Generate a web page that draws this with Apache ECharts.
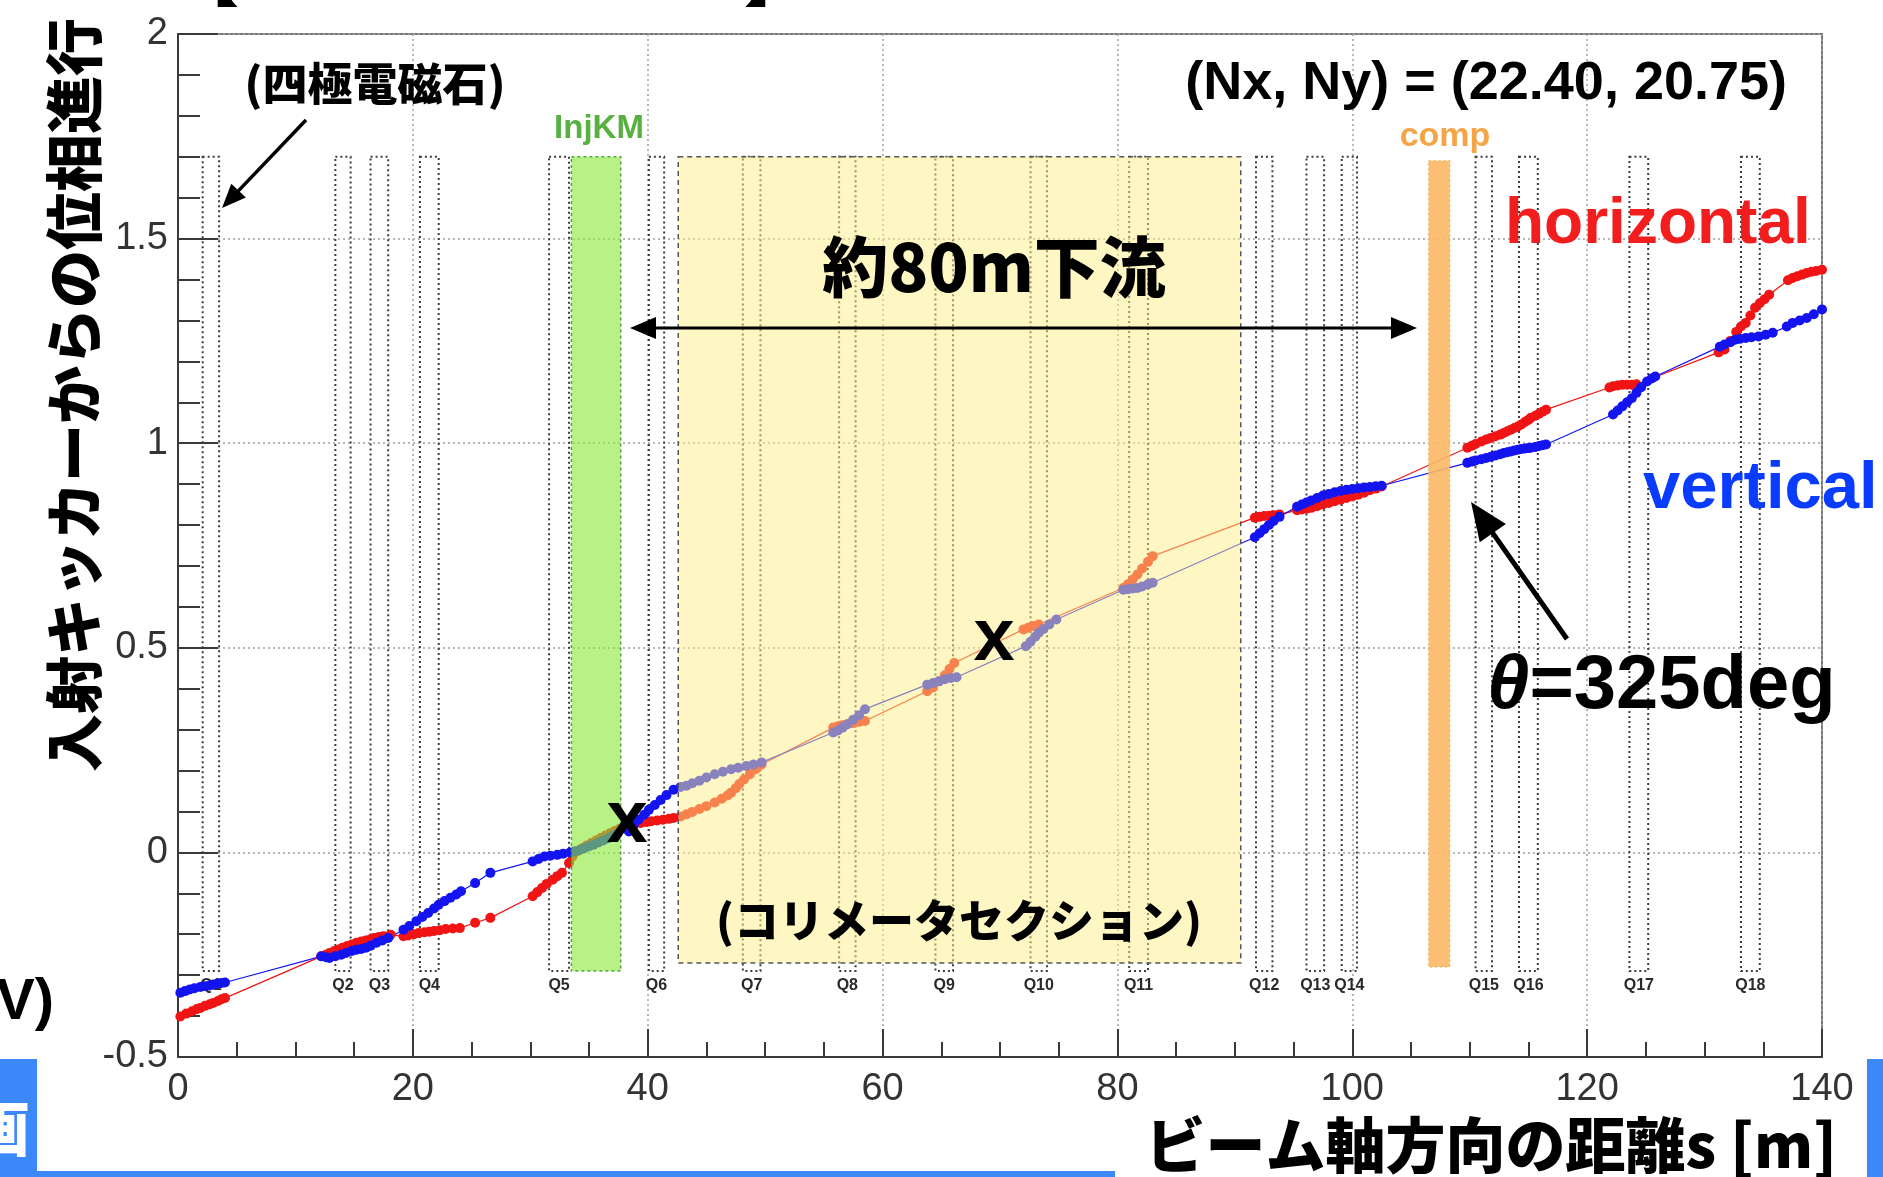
<!DOCTYPE html>
<html>
<head>
<meta charset="utf-8">
<script src="https://cdn.jsdelivr.net/npm/echarts@6/dist/echarts.min.js"></script>
<style>
  html, body { margin: 0; padding: 0; background: #ffffff; }
  #chart { width: 1883px; height: 1177px; }
</style>
</head>
<body>
<div id="chart"></div>
<script>
// Betatron phase advance from the injection kicker, [s (m), phase / 2π]
const horizontal = [
  [0.2,-0.401],[0.7,-0.394],[1.2,-0.388],[1.6,-0.383],[1.9,-0.380],[2.3,-0.375],[2.7,-0.371],[3.0,-0.368],[3.4,-0.363],[3.7,-0.359],[4.0,-0.356],
  [12.2,-0.254],[12.6,-0.250],[12.9,-0.246],[13.3,-0.241],[13.7,-0.237],[14.0,-0.233],[14.4,-0.229],[14.8,-0.225],[15.2,-0.221],[15.6,-0.218],[16.0,-0.215],[16.4,-0.212],[16.7,-0.209],[17.1,-0.207],[17.5,-0.205],[18.1,-0.201],
  [19.2,-0.205],[19.6,-0.203],[20.1,-0.200],[20.5,-0.197],[21.0,-0.195],[21.4,-0.194],[21.8,-0.192],[22.3,-0.190],[22.8,-0.187],[23.4,-0.186],[24.0,-0.185],[25.3,-0.172],[26.6,-0.160],
  [30.2,-0.107],[30.6,-0.097],[31.0,-0.087],[31.4,-0.077],[31.9,-0.067],[32.3,-0.058],[32.7,-0.050],[33.3,-0.026],
  [33.6,-0.010],[34.0,0.003],[34.4,0.010],[34.8,0.017],[35.2,0.023],[35.6,0.029],[36.0,0.035],[36.4,0.041],[36.8,0.047],[37.2,0.052],[37.6,0.058],
  [38.4,0.067],[38.9,0.070],[39.4,0.072],[39.9,0.074],[40.3,0.076],[40.8,0.078],[41.3,0.080],[41.8,0.082],[42.2,0.084],
  [42.8,0.088],[43.3,0.093],[43.8,0.099],[44.4,0.106],[45.0,0.113],[45.7,0.122],[46.3,0.131],[46.8,0.139],[47.1,0.146],[47.5,0.157],[47.8,0.167],[48.2,0.178],[48.7,0.191],[49.2,0.203],[49.7,0.215],
  [55.8,0.305],[56.2,0.308],[56.6,0.311],[57.0,0.313],[57.5,0.316],[58.0,0.319],[58.5,0.321],
  [63.8,0.394],[64.3,0.403],[64.8,0.418],[65.3,0.433],[65.7,0.448],[66.1,0.463],
  [72.0,0.545],[72.4,0.549],[72.8,0.553],[73.3,0.557],
  [80.5,0.646],[80.9,0.655],[81.3,0.667],[81.7,0.679],[82.1,0.694],[82.6,0.710],[83.0,0.724],
  [91.7,0.818],[92.1,0.820],[92.5,0.822],[92.9,0.823],[93.3,0.824],[93.8,0.826],
  [95.3,0.836],[95.7,0.838],[96.1,0.840],[96.5,0.842],[97.0,0.846],[97.5,0.850],[98.0,0.854],[98.5,0.858],[99.0,0.862],[99.5,0.866],[100.0,0.870],[100.5,0.874],[101.0,0.879],[101.5,0.885],[102.0,0.889],[102.5,0.894],
  [109.8,0.989],[110.2,0.994],[110.5,0.998],[111.0,1.004],[111.4,1.009],[111.8,1.013],[112.2,1.017],[112.6,1.021],[112.9,1.025],[113.2,1.029],[113.5,1.033],[113.8,1.037],[114.1,1.041],[114.4,1.046],[114.7,1.052],[115.0,1.057],[115.2,1.062],[115.6,1.067],[115.9,1.072],[116.2,1.077],[116.5,1.082],
  [121.9,1.136],[122.2,1.139],[122.6,1.141],[123.0,1.143],[123.4,1.143],[123.8,1.143],[124.2,1.144],
  [131.2,1.222],[131.7,1.229],[132.2,1.250],[132.7,1.272],[133.1,1.285],[133.5,1.294],[133.9,1.312],[134.3,1.331],[134.7,1.342],[135.1,1.352],[135.5,1.363],
  [137.1,1.398],[137.5,1.404],[137.9,1.408],[138.3,1.412],[138.7,1.416],[139.1,1.419],[139.5,1.421],[140.0,1.424]
];

const vertical = [
  [0.2,-0.343],[0.6,-0.339],[1.0,-0.335],[1.4,-0.332],[1.9,-0.329],[2.3,-0.327],[2.7,-0.325],[3.0,-0.323],[3.4,-0.321],[3.7,-0.319],[4.0,-0.318],
  [12.2,-0.254],[12.6,-0.256],[12.9,-0.258],[13.4,-0.254],[13.9,-0.250],[14.3,-0.246],[14.8,-0.241],[15.2,-0.238],[15.6,-0.236],[16.0,-0.233],[16.4,-0.228],[16.9,-0.221],[17.4,-0.215],[17.9,-0.209],
  [19.2,-0.189],[19.7,-0.180],[20.3,-0.168],[20.8,-0.158],[21.3,-0.148],[21.8,-0.137],[22.2,-0.128],[22.7,-0.119],[23.2,-0.111],[23.7,-0.103],[24.1,-0.095],[25.3,-0.075],[26.6,-0.050],
  [30.2,-0.022],[30.7,-0.016],[31.2,-0.010],[31.7,-0.008],[32.3,-0.006],[32.8,-0.003],[33.4,0.000],
  [33.8,0.003],[34.2,0.006],[34.6,0.010],[35.0,0.015],[35.4,0.019],[35.8,0.024],[36.2,0.029],[36.6,0.034],[37.0,0.040],[37.4,0.046],
  [38.4,0.051],[38.8,0.066],[39.2,0.080],[39.7,0.092],[40.1,0.104],[40.6,0.116],[41.1,0.128],[41.6,0.140],[42.2,0.153],
  [42.8,0.160],[43.3,0.163],[43.8,0.169],[44.4,0.175],[45.0,0.183],[45.7,0.191],[46.4,0.197],[47.1,0.203],[47.7,0.207],[48.4,0.211],[49.0,0.215],[49.7,0.220],
  [55.8,0.293],[56.2,0.298],[56.6,0.305],[57.0,0.313],[57.5,0.324],[58.0,0.335],[58.5,0.350],
  [63.8,0.410],[64.3,0.414],[64.8,0.418],[65.3,0.423],[65.8,0.426],[66.3,0.428],
  [72.2,0.504],[72.6,0.515],[73.0,0.527],[73.3,0.537],[73.7,0.546],[74.2,0.557],[74.8,0.569],
  [80.5,0.642],[80.9,0.643],[81.3,0.645],[81.7,0.646],[82.1,0.650],[82.6,0.655],[83.0,0.659],
  [91.7,0.770],[92.1,0.780],[92.5,0.790],[92.9,0.800],[93.3,0.810],[93.8,0.820],
  [95.3,0.845],[95.7,0.850],[96.1,0.855],[96.5,0.860],[97.0,0.866],[97.5,0.872],[98.0,0.876],[98.5,0.880],[99.0,0.883],[99.5,0.886],[100.0,0.888],[100.5,0.890],[101.0,0.892],[101.5,0.893],[102.0,0.895],[102.5,0.896],
  [109.8,0.952],[110.2,0.955],[110.5,0.958],[111.0,0.961],[111.4,0.964],[111.8,0.967],[112.2,0.970],[112.6,0.973],[112.9,0.976],[113.2,0.978],[113.5,0.980],[113.8,0.982],[114.1,0.984],[114.4,0.986],[114.7,0.987],[115.0,0.988],[115.2,0.989],[115.6,0.991],[115.9,0.993],[116.2,0.995],[116.5,0.997],
  [122.2,1.070],[122.6,1.080],[123.0,1.090],[123.4,1.100],[123.8,1.110],[124.2,1.123],[124.6,1.137],[125.1,1.151],[125.5,1.158],[125.8,1.163],
  [131.3,1.236],[131.7,1.241],[132.2,1.247],[132.6,1.253],[133.0,1.255],[133.5,1.257],[134.0,1.259],[134.6,1.261],[135.2,1.265],[135.8,1.270],
  [137.0,1.285],[137.5,1.294],[138.1,1.300],[138.7,1.306],[139.3,1.315],[140.0,1.327]
];

// Quadrupole magnets: name, upstream and downstream edge (m)
const quadNames = ['Q1','Q2','Q3','Q4','Q5','Q6','Q7','Q8','Q9','Q10','Q11','Q12','Q13','Q14','Q15','Q16','Q17','Q18'];
const quadStart = [2.1, 13.4, 16.4, 20.6, 31.6, 40.1, 48.1, 56.3, 64.5, 72.6, 81.0, 91.8, 96.1, 99.1, 110.5, 114.2, 123.6, 133.1];
const quadEnd   = [3.5, 14.7, 17.9, 22.2, 33.3, 41.4, 49.6, 57.7, 66.0, 74.0, 82.6, 93.2, 97.6, 100.4, 111.9, 115.8, 125.2, 134.7];
const quadSpan = [-0.29, 1.70];   // vertical extent of the magnet boxes (phase units)
const quadLabelLevel = -0.325;

// Highlighted sections: [s start, s end, phase bottom, phase top]
const injKicker = [33.5, 37.7, -0.29, 1.70];
const collimatorSection = [42.6, 90.5, -0.27, 1.70];
const compSection = [106.5, 108.3, -0.28, 1.69];

const chart = echarts.init(document.getElementById('chart'), null, { renderer: 'canvas' });

const CJK = '"Noto Sans CJK JP", "Noto Sans CJK SC", sans-serif';
const SANS = '"Liberation Sans", Arial, sans-serif';
const AXIS = '#3a3a3a';

const bandStyles = [
  { fill: 'rgba(140,232,60,0.62)', stroke: 'rgba(60,150,40,0.85)', lineDash: [3, 3] },
  { fill: 'rgba(255,240,135,0.50)', stroke: '#555555', lineDash: [5, 4] },
  { fill: 'rgba(250,184,100,0.90)', stroke: 'rgba(240,170,80,0.7)', lineDash: [2, 3] }
];

function arrow(x1, y1, x2, y2, width, head, both) {
  const dx = x2 - x1, dy = y2 - y1, len = Math.hypot(dx, dy);
  const ux = dx / len, uy = dy / len, nx = -uy, ny = ux;
  const tip = (px, py, sx, sy) => ({
    type: 'polygon', z: 50,
    shape: { points: [[px, py],
      [px - sx * head + nx * head * 0.42, py - sy * head + ny * head * 0.42],
      [px - sx * head - nx * head * 0.42, py - sy * head - ny * head * 0.42]] },
    style: { fill: '#000' }
  });
  const out = [{
    type: 'line', z: 50,
    shape: { x1: both ? x1 + ux * head * 0.8 : x1, y1: both ? y1 + uy * head * 0.8 : y1,
             x2: x2 - ux * head * 0.8, y2: y2 - uy * head * 0.8 },
    style: { stroke: '#000', lineWidth: width }
  }, tip(x2, y2, ux, uy)];
  if (both) out.push(tip(x1, y1, -ux, -uy));
  return out;
}

function label(text, x, y, font, fill, align, extra) {
  return Object.assign({
    type: 'text', z: 60, x: x, y: y,
    style: { text: text, font: font, fill: fill || '#000', align: align || 'center', verticalAlign: 'middle' }
  }, extra || {});
}

const graphics = [
  // slide decorations
  { type: 'rect', z: 40, shape: { x: 0, y: 1059, width: 37, height: 114 }, style: { fill: '#3b88fb' } },
  label('画', 30, 1128, '900 60px ' + CJK, '#ffffff', 'right'),
  { type: 'rect', z: 40, shape: { x: 0, y: 1171, width: 1115, height: 6 }, style: { fill: '#3b88fb' } },
  { type: 'rect', z: 40, shape: { x: 1867, y: 1059, width: 16, height: 118 }, style: { fill: '#3b88fb' } },
  label('V)', -4, 1003, 'bold 58px ' + SANS, '#000', 'left'),
  label('【', 208, -22, '900 62px ' + CJK, '#000'),
  label('】', 775, -22, '900 62px ' + CJK, '#000'),

  // axis titles
  label('入射キッカーからの位相進行', 74, 395, '900 58px ' + CJK, '#000', 'center', { rotation: Math.PI / 2 }),
  label('ビーム軸方向の距離s [m]', 1837, 1145, '900 60px ' + CJK, '#000', 'right'),

  // annotations
  label('(四極電磁石)', 375, 84, '900 45px ' + CJK),
  label('InjKM', 599, 129, 'bold 33px ' + SANS, '#58b040'),
  label('comp', 1445, 137, 'bold 34px ' + SANS, '#f5a546'),
  label('(Nx, Ny) = (22.40, 20.75)', 1787, 84, 'bold 54px ' + SANS, '#000', 'right'),
  label('horizontal', 1505, 225, 'bold 64px ' + SANS, '#f21e1e', 'left'),
  label('vertical', 1643, 490, 'bold 67px ' + SANS, '#0a3cff', 'left'),
  label('約80m下流', 994, 267, '900 66px ' + CJK),
  label('(コリメータセクション)', 959, 921, '900 45px ' + CJK),
  label('x', 627, 822, 'bold 74px ' + SANS),
  label('x', 994, 640, 'bold 74px ' + SANS),
  {
    type: 'text', z: 60, x: 1487, y: 687,
    style: {
      text: '{t|θ}=325deg', fill: '#000', align: 'left', verticalAlign: 'middle',
      font: 'bold 76px ' + SANS,
      rich: { t: { fontStyle: 'italic', fontWeight: 'bold', fontSize: 76, fontFamily: SANS, fill: '#000' } }
    }
  }
].concat(
  arrow(306, 120, 222, 208, 3.5, 24, false),
  arrow(630, 328, 1417, 328, 3, 26, true),
  arrow(1567, 639, 1471, 502, 5, 38, false)
);

const option = {
  animation: false,
  backgroundColor: '#ffffff',
  grid: { left: 178, right: 61, top: 34, bottom: 120, show: true, borderColor: '#777', borderWidth: 2 },
  xAxis: {
    type: 'value', min: 0, max: 140, interval: 20,
    axisLine: { show: true, onZero: false, lineStyle: { color: AXIS, width: 2 } },
    axisTick: { show: true, inside: true, length: 28, lineStyle: { color: AXIS, width: 2 } },
    minorTick: { show: true, splitNumber: 4, length: 15, lineStyle: { color: AXIS, width: 2 } },
    axisLabel: { fontSize: 38, fontFamily: SANS, color: '#333', margin: 14 },
    splitLine: { show: true, lineStyle: { type: [2, 3], color: '#a0a0a0', width: 1.5 } }
  },
  yAxis: {
    type: 'value', min: -0.5, max: 2, interval: 0.5,
    axisLine: { show: true, onZero: false, lineStyle: { color: AXIS, width: 2 } },
    axisTick: { show: true, inside: true, length: 40, lineStyle: { color: AXIS, width: 2 } },
    minorTick: { show: true, splitNumber: 5, length: 22, lineStyle: { color: AXIS, width: 2 } },
    axisLabel: { fontSize: 38, fontFamily: SANS, color: '#333', margin: 10 },
    splitLine: { show: true, lineStyle: { type: [2, 3], color: '#a0a0a0', width: 1.5 } }
  },
  series: [
    {
      type: 'custom', name: 'quadrupoles', z: 2, silent: true,
      data: quadNames.map((n, i) => [quadStart[i], quadEnd[i], quadSpan[0], quadSpan[1]]),
      encode: { x: [0, 1], y: [2, 3] },
      renderItem: function (params, api) {
        const a = api.coord([api.value(0), api.value(3)]);
        const b = api.coord([api.value(1), api.value(2)]);
        const c = api.coord([(api.value(0) + api.value(1)) / 2, quadLabelLevel]);
        return {
          type: 'group',
          children: [
            { type: 'rect', shape: { x: a[0], y: a[1], width: b[0] - a[0], height: b[1] - a[1] },
              style: { fill: 'none', stroke: '#3c3c3c', lineWidth: 2, lineDash: [2, 3] } },
            { type: 'text', x: c[0], y: c[1],
              style: { text: quadNames[params.dataIndex], font: 'bold 16px ' + SANS, fill: '#2a2a2a', align: 'center', verticalAlign: 'middle' } }
          ]
        };
      }
    },
    {
      type: 'line', name: 'horizontal', z: 3, data: horizontal,
      symbol: 'circle', symbolSize: 10, showSymbol: true, showAllSymbol: true,
      lineStyle: { color: '#f01414', width: 1.2 }, itemStyle: { color: '#f01414' }
    },
    {
      type: 'line', name: 'vertical', z: 3, data: vertical,
      symbol: 'circle', symbolSize: 10, showSymbol: true, showAllSymbol: true,
      lineStyle: { color: '#1414f0', width: 1.2 }, itemStyle: { color: '#1414f0' }
    },
    {
      type: 'custom', name: 'sections', z: 4, silent: true,
      data: [injKicker, collimatorSection, compSection],
      encode: { x: [0, 1], y: [2, 3] },
      renderItem: function (params, api) {
        const a = api.coord([api.value(0), api.value(3)]);
        const b = api.coord([api.value(1), api.value(2)]);
        const s = bandStyles[params.dataIndex];
        return {
          type: 'rect', shape: { x: a[0], y: a[1], width: b[0] - a[0], height: b[1] - a[1] },
          style: { fill: s.fill, stroke: s.stroke, lineWidth: 1.5, lineDash: s.lineDash }
        };
      }
    }
  ],
  graphic: { elements: graphics }
};

chart.setOption(option);
</script>
</body>
</html>
